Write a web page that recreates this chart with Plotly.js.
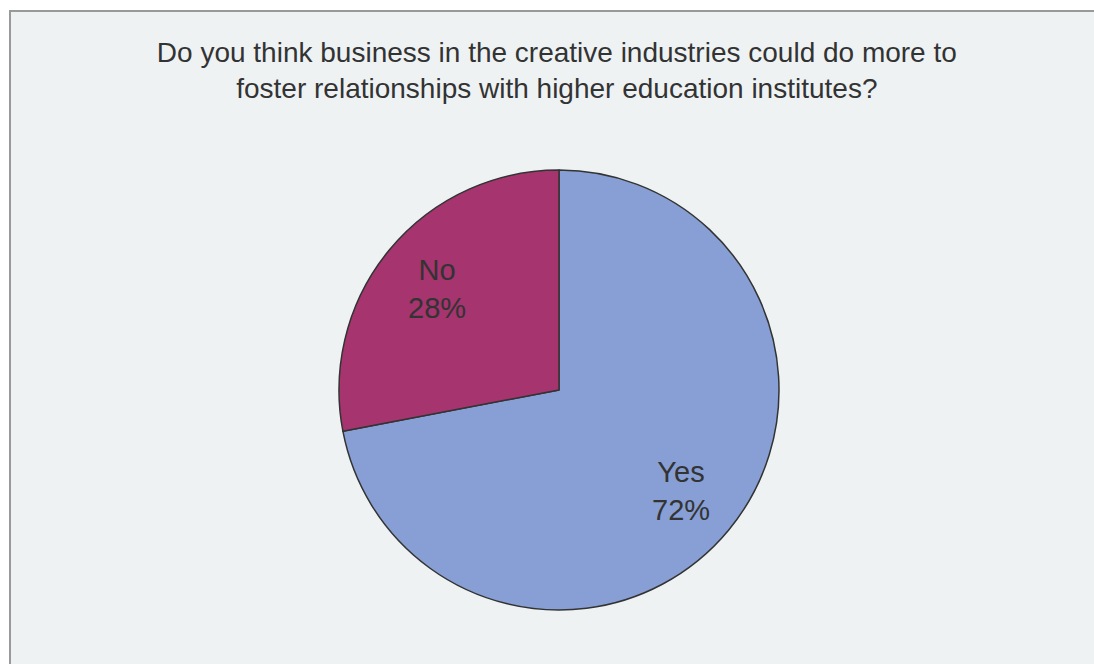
<!DOCTYPE html>
<html>
<head>
<meta charset="utf-8">
<script src="https://cdn.plot.ly/plotly-3.0.1.min.js"></script>
<style>
  html, body { margin: 0; padding: 0; background: #ffffff; width: 1094px; height: 664px; overflow: hidden; }
  #frame { position: absolute; left: 9px; top: 10px; width: 1100px; height: 670px; border-left: 2px solid #999999; border-top: 2px solid #999999; background: #eef2f3; }
  #chart { position: absolute; left: 0; top: 0; width: 1094px; height: 664px; }
</style>
</head>
<body>
<div id="frame"></div>
<div id="chart"></div>
<script>
const categories = ["Yes", "No"];
const values = [72, 28];
const colors = ["#879fd4", "#a5346f"];
const titleText = "Do you think business in the creative industries could do more to<br>foster relationships with higher education institutes?";

const W = 1094, H = 664;
const pieDomain = { x: [339 / W, 779 / W], y: [54 / H, 494 / H] };
const labelRadiusFrac = 0.72;
const labelFont = { family: "Liberation Sans, Arial, sans-serif", size: 29, color: "#333333" };

const trace = {
  type: "pie",
  labels: categories,
  values: values,
  sort: false,
  direction: "clockwise",
  rotation: 0,
  marker: { colors: colors, line: { color: "#333333", width: 1.5 } },
  textinfo: "none",
  domain: pieDomain,
  hoverinfo: "none"
};

// Slice labels placed along each slice's mid-angle (derived from the values)
const total = values.reduce((a, b) => a + b, 0);
const cxP = (pieDomain.x[0] + pieDomain.x[1]) / 2;
const cyP = (pieDomain.y[0] + pieDomain.y[1]) / 2;
const rPx = Math.min((pieDomain.x[1] - pieDomain.x[0]) * W, (pieDomain.y[1] - pieDomain.y[0]) * H) / 2;
let cum = 0;
const annotations = categories.map((cat, i) => {
  const frac = values[i] / total;
  const mid = (cum + frac / 2) * 2 * Math.PI; // clockwise from 12 o'clock
  cum += frac;
  const dx = Math.sin(mid) * rPx * labelRadiusFrac;
  const dy = Math.cos(mid) * rPx * labelRadiusFrac;
  return {
    xref: "paper", yref: "paper",
    x: cxP + dx / W, y: cyP + dy / H,
    xanchor: "center", yanchor: "middle",
    text: cat + "<br>" + Math.round(frac * 100) + "%",
    showarrow: false,
    font: labelFont
  };
});

const layout = {
  width: W, height: H,
  margin: { l: 0, r: 0, t: 0, b: 0 },
  paper_bgcolor: "rgba(0,0,0,0)",
  plot_bgcolor: "rgba(0,0,0,0)",
  showlegend: false,
  annotations: annotations,
  title: {
    text: titleText,
    font: { family: "Liberation Sans, Arial, sans-serif", size: 28, color: "#333333" },
    x: 0.509, xanchor: "center",
    y: 1 - 62 / H, yanchor: "top",
    yref: "container"
  }
};

Plotly.newPlot("chart", [trace], layout, { displayModeBar: false, staticPlot: true });
</script>
</body>
</html>
